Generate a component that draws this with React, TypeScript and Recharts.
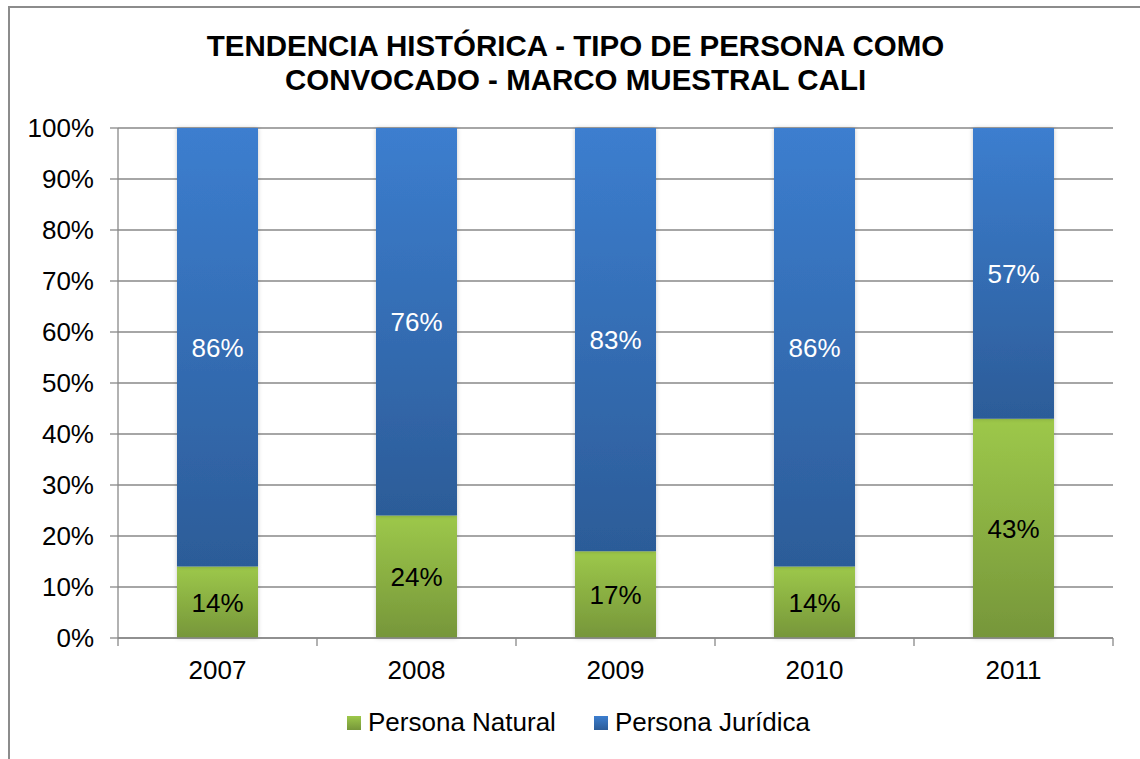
import React from 'react';
import { BarChart, Bar, XAxis, YAxis, CartesianGrid, LabelList, Legend } from 'recharts';

const categories = ['2007', '2008', '2009', '2010', '2011'];
const personaNatural = [14, 24, 17, 14, 43];
const personaJuridica = [86, 76, 83, 86, 57];
const yTicks = [0, 10, 20, 30, 40, 50, 60, 70, 80, 90, 100];
const seriesNames = ['Persona Natural', 'Persona Jurídica'];
const titleLines = ['TENDENCIA HISTÓRICA - TIPO DE PERSONA COMO', 'CONVOCADO - MARCO MUESTRAL CALI'];

const data = categories.map((c, i) => ({
  year: c,
  natural: personaNatural[i],
  juridica: personaJuridica[i],
}));

const FONT = '"Liberation Sans", Arial, sans-serif';
const GRID = '#898989';
const FS = 26;

const LegendContent = () => {
  const items = [
    { name: seriesNames[0], fill: 'url(#gradGreen)' },
    { name: seriesNames[1], fill: 'url(#gradBlue)' },
  ];
  return (
    <div style={{ display: 'flex', alignItems: 'center', marginLeft: 347, fontFamily: FONT, fontSize: FS, color: '#000' }}>
      {items.map((it, i) => (
        <div key={i} style={{ display: 'flex', alignItems: 'center', marginRight: 38 }}>
          <svg width={14} height={14} style={{ marginRight: 7 }}>
            <rect x={0} y={0} width={14} height={14} fill={it.fill} />
          </svg>
          <span>{it.name}</span>
        </div>
      ))}
    </div>
  );
};

const renderXTick = (props: any) => {
  const x = Number(props.x);
  const y = Number(props.y);
  const payload = props.payload || {};
  const index = Number(props.index);
  const half = Number(payload.offset) || 0;
  const last = index === categories.length - 1;
  return (
    <g>
      <line x1={x - half} x2={x - half} y1={y - 8} y2={y} stroke={GRID} strokeWidth={1.3} />
      {last ? <line x1={x + half} x2={x + half} y1={y - 8} y2={y} stroke={GRID} strokeWidth={1.3} /> : null}
      <text x={x} y={y + 33} textAnchor="middle" fontSize={FS} fontFamily={FONT} fill="#000">
        {String(payload.value ?? '')}
      </text>
    </g>
  );
};

export default function App() {
  return (
    <div style={{ position: 'absolute', left: 0, top: 0, width: 1140, height: 759, overflow: 'hidden', background: '#fff' }}>
      <div style={{ position: 'absolute', left: 8, top: 6, width: 1300, height: 900, border: '2px solid #8c8c8c', boxSizing: 'border-box' }} />
      <div style={{ position: 'absolute', left: 0, top: 29, width: 1151, textAlign: 'center', fontFamily: FONT, fontWeight: 'bold', fontSize: 29.5, lineHeight: '34px', color: '#000' }}>
        {titleLines.map((l, i) => (
          <div key={i}>{l}</div>
        ))}
      </div>
      <div style={{ position: 'absolute', left: 0, top: 0 }}>
        <BarChart
          width={1140}
          height={759}
          data={data}
          margin={{ top: 128, right: 27, bottom: 91, left: 10 }}
          style={{ fontFamily: FONT }}
        >
          <defs>
            <linearGradient id="gradBlue" x1="0" y1="0" x2="0" y2="1">
              <stop offset="0%" stopColor="#3C7ECF" />
              <stop offset="100%" stopColor="#2C5C98" />
            </linearGradient>
            <linearGradient id="gradGreen" x1="0" y1="0" x2="0" y2="1">
              <stop offset="0%" stopColor="#9DC84A" />
              <stop offset="100%" stopColor="#76963A" />
            </linearGradient>
            <filter id="barShadow" x="-20%" y="-5%" width="140%" height="110%">
              <feDropShadow dx="0" dy="0" stdDeviation="2" floodColor="#000" floodOpacity="0.22" />
            </filter>
          </defs>
          <CartesianGrid vertical={false} stroke={GRID} strokeWidth={1.3} />
          <YAxis
            width={108}
            domain={[0, 100]}
            ticks={yTicks}
            interval={0}
            tickFormatter={(v: number) => `${v}%`}
            axisLine={{ stroke: GRID, strokeWidth: 1.3 }}
            tickLine={{ stroke: GRID, strokeWidth: 1.3 }}
            tickSize={8}
            tickMargin={16}
            tick={{ fontSize: FS, fill: '#000', fontFamily: FONT }}
          />
          <XAxis
            dataKey="year"
            height={30}
            interval={0}
            axisLine={{ stroke: GRID, strokeWidth: 1.3 }}
            tickLine={false}
            tickSize={8}
            tickMargin={0}
            tick={renderXTick}
          />
          <Bar dataKey="natural" name={seriesNames[0]} stackId="a" barSize={81} fill="url(#gradGreen)" filter="url(#barShadow)" isAnimationActive={false}>
            <LabelList dataKey="natural" position="center" formatter={(v: number) => `${v}%`} fill="#000" fontSize={FS} fontFamily={FONT} />
          </Bar>
          <Bar dataKey="juridica" name={seriesNames[1]} stackId="a" barSize={81} fill="url(#gradBlue)" filter="url(#barShadow)" isAnimationActive={false}>
            <LabelList dataKey="juridica" position="center" formatter={(v: number) => `${v}%`} fill="#fff" fontSize={FS} fontFamily={FONT} />
          </Bar>
          <Legend
            layout="horizontal"
            verticalAlign="middle"
            align="center"
            wrapperStyle={{ top: 707, left: 0, width: 1140 }}
            content={() => <LegendContent />}
          />
        </BarChart>
      </div>
    </div>
  );
}
